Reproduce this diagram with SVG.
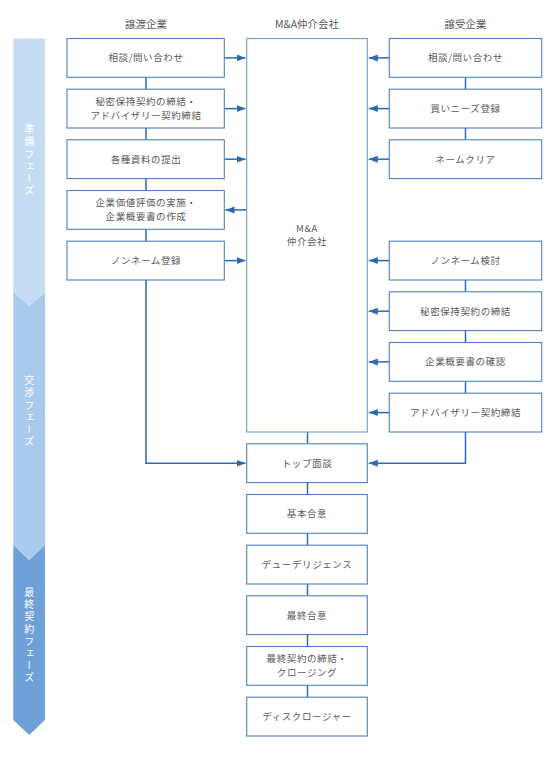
<svg xmlns="http://www.w3.org/2000/svg" width="560" height="768" viewBox="0 0 560 768">
<style>
.box{fill:#ffffff;stroke:#4a80c4;stroke-width:1.1}
.big{fill:#ffffff;stroke:#6b9bd3;stroke-width:1.1}
.t{font-family:"Noto Sans CJK JP","Noto Sans",sans-serif;font-size:9.5px;fill:#595959;text-anchor:middle;letter-spacing:0.6px}
.h{font-family:"Noto Sans CJK JP","Noto Sans",sans-serif;font-size:10.5px;fill:#595959;text-anchor:middle}
.ph{font-family:"Noto Sans CJK JP","Noto Sans",sans-serif;font-size:10px;fill:#ffffff;text-anchor:middle;writing-mode:vertical-rl;letter-spacing:2.2px}
.c{fill:none;stroke:#2d68b0;stroke-width:1.5}
</style>
<defs>
<marker id="ah" markerUnits="userSpaceOnUse" markerWidth="10" markerHeight="8" refX="9" refY="4" orient="auto">
<path d="M0,0.5 L9,4 L0,7.5 Z" fill="#2d68b0"/>
</marker>
</defs>
<rect width="560" height="768" fill="#ffffff"/>

<g id="phases">
<polygon points="13.3,545 29.2,560 45,545 45,720 29.2,735 13.3,720" fill="#6ea1d9"/>
<polygon points="13.3,291.7 29.2,306 45,291.7 45,545 29.2,560 13.3,545" fill="#a9cbee"/>
<polygon points="13.3,38.5 45,38.5 45,291.7 29.2,306 13.3,291.7" fill="#c5ddf2"/>
<text class="ph" x="29.2" y="161">準備フェーズ</text>
<text class="ph" x="29.2" y="412">交渉フェーズ</text>
<text class="ph" x="29.2" y="636">最終契約フェーズ</text>
</g>

<g id="headers">
<text class="h" x="146" y="28">譲渡企業</text>
<text class="h" x="307" y="28">M&amp;A仲介会社</text>
<text class="h" x="465.5" y="28">譲受企業</text>
</g>

<g id="connectors">
<line class="c" x1="146" y1="77.3" x2="146" y2="89.2"/>
<line class="c" x1="146" y1="128" x2="146" y2="139.8"/>
<line class="c" x1="146" y1="178.6" x2="146" y2="190.5"/>
<line class="c" x1="146" y1="229.3" x2="146" y2="241.2"/>
<line class="c" x1="224.3" y1="57.9" x2="245.5" y2="57.9" marker-end="url(#ah)"/>
<line class="c" x1="224.3" y1="108.6" x2="245.5" y2="108.6" marker-end="url(#ah)"/>
<line class="c" x1="224.3" y1="159.2" x2="245.5" y2="159.2" marker-end="url(#ah)"/>
<line class="c" x1="246.7" y1="209.9" x2="225.5" y2="209.9" marker-end="url(#ah)"/>
<line class="c" x1="224.3" y1="260.6" x2="245.5" y2="260.6" marker-end="url(#ah)"/>
<polyline class="c" points="146,280 146,463.2 245.5,463.2" marker-end="url(#ah)"/>

<line class="c" x1="465.5" y1="77.3" x2="465.5" y2="89.2"/>
<line class="c" x1="465.5" y1="128" x2="465.5" y2="139.8"/>
<line class="c" x1="465.5" y1="280" x2="465.5" y2="291.8"/>
<line class="c" x1="465.5" y1="330.6" x2="465.5" y2="342.5"/>
<line class="c" x1="465.5" y1="381.3" x2="465.5" y2="393.2"/>
<line class="c" x1="389.3" y1="57.9" x2="368.8" y2="57.9" marker-end="url(#ah)"/>
<line class="c" x1="389.3" y1="108.6" x2="368.8" y2="108.6" marker-end="url(#ah)"/>
<line class="c" x1="389.3" y1="159.2" x2="368.8" y2="159.2" marker-end="url(#ah)"/>
<line class="c" x1="389.3" y1="260.6" x2="368.8" y2="260.6" marker-end="url(#ah)"/>
<line class="c" x1="389.3" y1="311.2" x2="368.8" y2="311.2" marker-end="url(#ah)"/>
<line class="c" x1="389.3" y1="361.9" x2="368.8" y2="361.9" marker-end="url(#ah)"/>
<line class="c" x1="389.3" y1="412.6" x2="368.8" y2="412.6" marker-end="url(#ah)"/>
<polyline class="c" points="465.5,432 465.5,463.2 368.8,463.2" marker-end="url(#ah)"/>

<line class="c" x1="307.5" y1="432" x2="307.5" y2="443.8"/>
<line class="c" x1="307.5" y1="482.6" x2="307.5" y2="494.5"/>
<line class="c" x1="307.5" y1="533.3" x2="307.5" y2="545.2"/>
<line class="c" x1="307.5" y1="584" x2="307.5" y2="595.8"/>
<line class="c" x1="307.5" y1="634.6" x2="307.5" y2="646.5"/>
<line class="c" x1="307.5" y1="685.3" x2="307.5" y2="697.2"/>
</g>

<g id="s1"><rect class="box" x="67" y="38.5" width="157.3" height="38.8"/><text class="t" x="146" y="61.3">相談/問い合わせ</text></g>
<g id="s2"><rect class="box" x="67" y="89.2" width="157.3" height="38.8"/><text class="t" x="146" y="104.6">秘密保持契約の締結・</text><text class="t" x="146" y="118.6">アドバイザリー契約締結</text></g>
<g id="s3"><rect class="box" x="67" y="139.8" width="157.3" height="38.8"/><text class="t" x="146" y="162.6">各種資料の提出</text></g>
<g id="s4"><rect class="box" x="67" y="190.5" width="157.3" height="38.8"/><text class="t" x="146" y="205.9">企業価値評価の実施・</text><text class="t" x="146" y="219.9">企業概要書の作成</text></g>
<g id="s5"><rect class="box" x="67" y="241.2" width="157.3" height="38.8"/><text class="t" x="146" y="264">ノンネーム登録</text></g>

<g id="ma"><rect class="big" x="246.7" y="38.5" width="120.6" height="393.5"/><text class="t" x="307" y="231.8">M&amp;A</text><text class="t" x="307" y="244.6">仲介会社</text></g>

<g id="b1"><rect class="box" x="389.3" y="38.5" width="152.4" height="38.8"/><text class="t" x="465.5" y="61.3">相談/問い合わせ</text></g>
<g id="b2"><rect class="box" x="389.3" y="89.2" width="152.4" height="38.8"/><text class="t" x="465.5" y="112">買いニーズ登録</text></g>
<g id="b3"><rect class="box" x="389.3" y="139.8" width="152.4" height="38.8"/><text class="t" x="465.5" y="162.6">ネームクリア</text></g>
<g id="b4"><rect class="box" x="389.3" y="241.2" width="152.4" height="38.8"/><text class="t" x="465.5" y="264">ノンネーム検討</text></g>
<g id="b5"><rect class="box" x="389.3" y="291.8" width="152.4" height="38.8"/><text class="t" x="465.5" y="314.6">秘密保持契約の締結</text></g>
<g id="b6"><rect class="box" x="389.3" y="342.5" width="152.4" height="38.8"/><text class="t" x="465.5" y="365.3">企業概要書の確認</text></g>
<g id="b7"><rect class="box" x="389.3" y="393.2" width="152.4" height="38.8"/><text class="t" x="465.5" y="416">アドバイザリー契約締結</text></g>

<g id="m1"><rect class="box" x="246.7" y="443.8" width="120.6" height="38.8"/><text class="t" x="307" y="466.6">トップ面談</text></g>
<g id="m2"><rect class="box" x="246.7" y="494.5" width="120.6" height="38.8"/><text class="t" x="307" y="517.3">基本合意</text></g>
<g id="m3"><rect class="box" x="246.7" y="545.2" width="120.6" height="38.8"/><text class="t" x="307" y="568">デューデリジェンス</text></g>
<g id="m4"><rect class="box" x="246.7" y="595.8" width="120.6" height="38.8"/><text class="t" x="307" y="618.6">最終合意</text></g>
<g id="m5"><rect class="box" x="246.7" y="646.5" width="120.6" height="38.8"/><text class="t" x="307" y="661.9">最終契約の締結・</text><text class="t" x="307" y="675.9">クロージング</text></g>
<g id="m6"><rect class="box" x="246.7" y="697.2" width="120.6" height="38.8"/><text class="t" x="307" y="720">ディスクロージャー</text></g>
</svg>
